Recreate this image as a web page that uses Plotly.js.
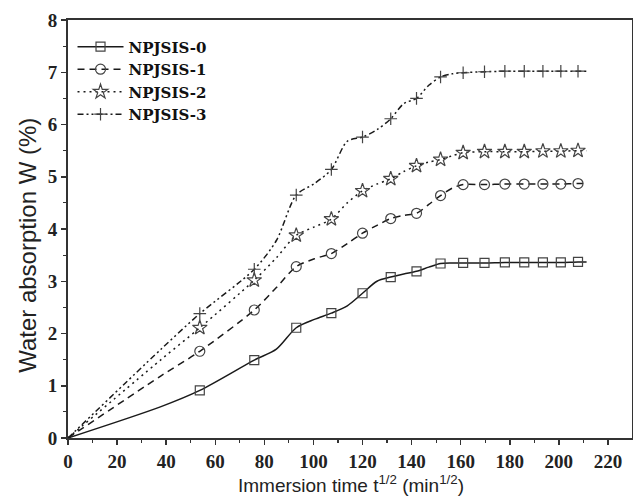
<!DOCTYPE html>
<html>
<head>
<meta charset="utf-8">
<script src="https://cdn.plot.ly/plotly-3.0.1.min.js"></script>
<style>html,body{margin:0;padding:0;background:#fff;}#chart{width:633px;height:497px;}</style>
</head>
<body>
<div id="chart"></div>
<script>
const timesAll = [0, 37.9, 53.7, 75.9, 84.9, 93.0, 100.4, 107.3, 113.8, 120.0, 125.9, 131.5, 136.8, 142.0, 147.0, 151.8, 156.5, 161.0, 169.7, 178.0, 185.9, 193.5, 200.8, 207.8, 211.3];
// times carrying a symbol
const timesMarked = [53.7, 75.9, 93.0, 107.3, 120.0, 131.5, 142.0, 151.8, 161.0, 169.7, 178.0, 185.9, 193.5, 200.8, 207.8];

const seriesNames = ['NPJSIS-0', 'NPJSIS-1', 'NPJSIS-2', 'NPJSIS-3'];
const npjsis0 = [0, 0.60, 0.91, 1.49, 1.70, 2.11, 2.27, 2.39, 2.53, 2.77, 3.00, 3.08, 3.14, 3.19, 3.27, 3.34, 3.35, 3.35, 3.35, 3.36, 3.36, 3.36, 3.36, 3.37, 3.37];
const npjsis1 = [0, 1.19, 1.66, 2.45, 2.88, 3.28, 3.43, 3.53, 3.72, 3.92, 4.07, 4.20, 4.26, 4.30, 4.47, 4.64, 4.78, 4.85, 4.85, 4.86, 4.86, 4.86, 4.86, 4.87, 4.87];
const npjsis2 = [0, 1.50, 2.11, 3.02, 3.45, 3.88, 4.04, 4.19, 4.50, 4.73, 4.86, 4.96, 5.10, 5.21, 5.28, 5.33, 5.40, 5.46, 5.48, 5.48, 5.48, 5.49, 5.49, 5.50, 5.50];
const npjsis3 = [0, 1.70, 2.38, 3.23, 3.78, 4.65, 4.87, 5.14, 5.68, 5.76, 5.90, 6.11, 6.40, 6.50, 6.75, 6.91, 6.97, 6.99, 7.01, 7.02, 7.02, 7.02, 7.02, 7.02, 7.02];
const seriesValues = [npjsis0, npjsis1, npjsis2, npjsis3];

const xTicks = [0, 20, 40, 60, 80, 100, 120, 140, 160, 180, 200, 220];
const yTicks = [0, 1, 2, 3, 4, 5, 6, 7, 8];
const xTitle = 'Immersion time t<sup>1/2</sup> (min<sup>1/2</sup>)';
const yTitle = 'Water absorption W (%)';

const dashes = ['solid', '7px,5px', '2px,4px', '6px,3px,2px,3px,2px,3px'];
const symbols = ['square-open', 'circle-open', 'star-open', 'cross-thin-open'];
const sizes = [9, 10, 11, 9];
const lineCol = '#1a1a1a';
const markCol = '#444';

const traces = [];
seriesValues.forEach((vals, i) => {
  const mx = [], my = [];
  timesAll.forEach((t, k) => { if (timesMarked.includes(t)) { mx.push(t); my.push(vals[k]); } });
  traces.push({x: timesAll, y: vals, mode: 'lines', type: 'scatter', showlegend: false,
    line: {color: lineCol, width: 1.5, dash: dashes[i], shape: 'spline', smoothing: 0.8}, hoverinfo: 'skip'});
  traces.push({x: mx, y: my, mode: 'markers', type: 'scatter', showlegend: false,
    marker: {symbol: symbols[i], size: sizes[i], color: markCol, line: {color: markCol, width: 1.2}}});
  traces.push({x: [null], y: [null], mode: 'lines+markers', type: 'scatter', name: seriesNames[i],
    line: {color: lineCol, width: 1.5, dash: dashes[i]},
    marker: {symbol: symbols[i], size: sizes[i], color: markCol, line: {color: markCol, width: 1.2}}});
});

const tickFont = {family: 'Liberation Serif, Times New Roman, serif', size: 19, color: '#222', weight: 'bold'};
const titleFontFamily = 'Liberation Sans, Arial, sans-serif';

const layout = {
  width: 633, height: 497,
  margin: {l: 67.5, r: 1, t: 20, b: 59.3},
  paper_bgcolor: '#fff', plot_bgcolor: '#fff',
  showlegend: true,
  legend: {x: 0.008, y: 0.975, xanchor: 'left', yanchor: 'top', bgcolor: 'rgba(0,0,0,0)',
    font: {family: 'DejaVu Serif, serif', size: 15, color: '#111', weight: 'bold'},
    itemwidth: 46, tracegroupgap: 0},
  xaxis: {range: [0, 229.8], tickvals: xTicks, ticktext: xTicks.map(String), ticks: 'outside', ticklen: 5, tickwidth: 1.5,
    tickcolor: '#333', showgrid: false, zeroline: false, showline: true, linecolor: '#333', linewidth: 2, mirror: true,
    tickfont: tickFont,
    minor: {dtick: 10, tick0: 0, ticks: 'outside', ticklen: 3, tickwidth: 1.2, tickcolor: '#333', showgrid: false}},
  yaxis: {range: [0, 8], tickvals: yTicks, ticktext: yTicks.map(String), ticks: 'outside', ticklen: 5, tickwidth: 1.5,
    tickcolor: '#333', showgrid: false, zeroline: false, showline: true, linecolor: '#333', linewidth: 2, mirror: true,
    tickfont: tickFont,
    minor: {dtick: 0.5, tick0: 0, ticks: 'outside', ticklen: 3, tickwidth: 1.2, tickcolor: '#333', showgrid: false}},
  annotations: [
    {text: yTitle, xref: 'paper', yref: 'paper', x: -0.0717, y: 0.461, xanchor: 'center', yanchor: 'middle',
      textangle: -90, showarrow: false, font: {family: titleFontFamily, size: 24, color: '#222'}},
    {text: xTitle, xref: 'paper', yref: 'paper', x: 0.502, y: -0.1095, xanchor: 'center', yanchor: 'middle',
      showarrow: false, font: {family: titleFontFamily, size: 19, color: '#222'}}
  ]
};

Plotly.newPlot('chart', traces, layout, {staticPlot: true, displayModeBar: false});
</script>
</body>
</html>
